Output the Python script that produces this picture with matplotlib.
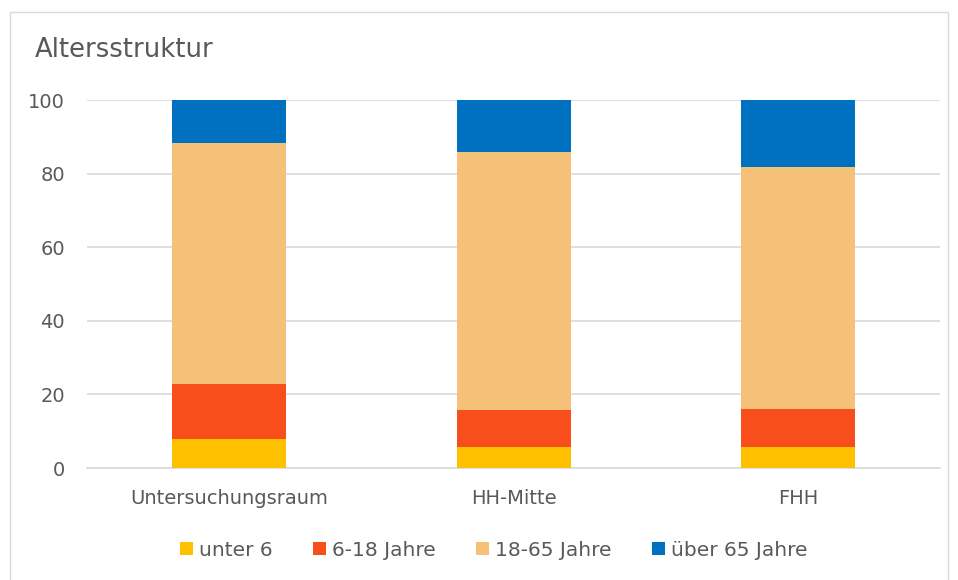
import numpy as np
import matplotlib.pyplot as plt
from matplotlib.patches import Rectangle

# Daten (Anteile in %)
gebiete = ['Untersuchungsraum', 'HH-Mitte', 'FHH']
gruppen = ['unter 6', '6-18 Jahre', '18-65 Jahre', 'über 65 Jahre']
unter6 = [7.8, 5.8, 5.7]
j6_18 = [15.0, 10.0, 10.3]
j18_65 = [65.4, 70.0, 65.7]
ueber65 = [11.8, 14.2, 18.3]
farben = ['#FFC000', '#F84E1C', '#F5C077', '#0070C0']

textfarbe = '#595959'
plt.rcParams['font.family'] = ['DejaVu Sans']

fig = plt.figure(figsize=(9.58, 5.80), dpi=100)
# Rahmen des Diagramms
fig.patches.append(Rectangle((10 / 958, -0.01), 938 / 958, 1 - 12 / 580 + 0.01,
                             transform=fig.transFigure, fill=False,
                             edgecolor='#d9d9d9', linewidth=1))

ax = fig.add_axes([87 / 958, 1 - 468 / 580, 853.5 / 958, 368 / 580])
x = np.arange(len(gebiete))
unten = np.zeros(len(gebiete))
for werte, name, farbe in zip([unter6, j6_18, j18_65, ueber65], gruppen, farben):
    ax.bar(x, werte, 0.4, bottom=unten, color=farbe, label=name, zorder=3)
    unten += np.array(werte)

ax.set_xlim(-0.5, len(gebiete) - 0.5)
ax.set_ylim(0, 100)
ax.set_yticks(range(0, 101, 20))
ax.set_xticks(x)
ax.set_xticklabels(gebiete)
ax.yaxis.grid(True, color='#d9d9d9', linewidth=1.2, zorder=0)
ax.tick_params(length=0, labelsize=14, colors=textfarbe)
ax.tick_params(axis='x', pad=15)
ax.tick_params(axis='y', pad=16)
for s in ['top', 'right', 'left']:
    ax.spines[s].set_visible(False)
ax.spines['bottom'].set_color('#d9d9d9')
ax.spines['bottom'].set_linewidth(1.2)
ax.spines['bottom'].set_zorder(1)

fig.text(35 / 958, 1 - 50 / 580, 'Altersstruktur', fontsize=18.6, color=textfarbe,
         va='center', ha='left')

fig.legend(loc='center', bbox_to_anchor=(494 / 958, 1 - 550 / 580), ncol=4, frameon=False,
           fontsize=14.5, labelcolor=textfarbe, handlelength=0.65, handleheight=0.65,
           handletextpad=0.3, columnspacing=2.0)

fig.savefig('out.png', dpi=100, facecolor='white')
